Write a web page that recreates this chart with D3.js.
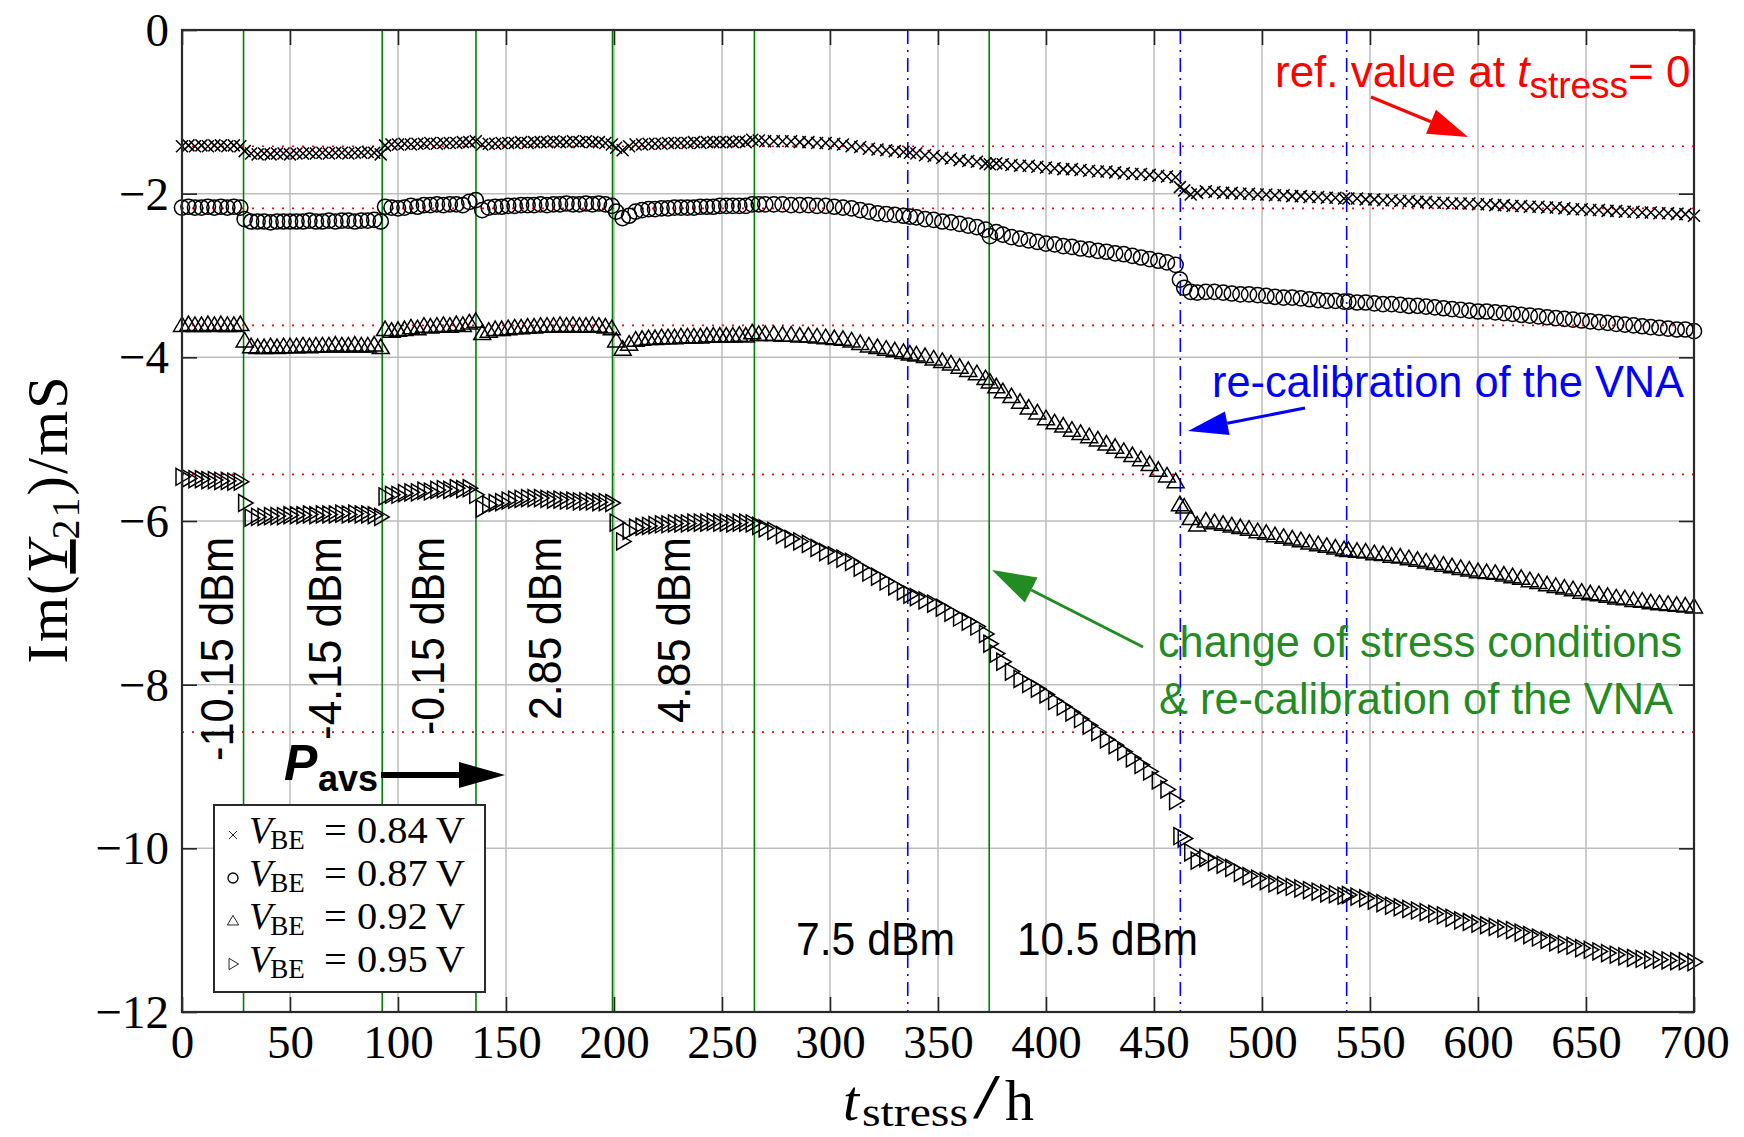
<!DOCTYPE html>
<html><head><meta charset="utf-8">
<script src="https://cdn.jsdelivr.net/npm/d3@7"></script>
<style>body{margin:0;background:#fff}</style>
</head><body>
<svg id="chart" width="1744" height="1137"></svg>
<script>
// ---------------- data ----------------
const hours = [0,3,6,9,12,15,18,21,24,27,
29,32,35,38,41,44,47,50,53,56,59,62,65,68,71,74,77,80,83,86,89,92,
94,97,100,103,106,109,112,115,118,121,124,127,130,133,136,
139,142,145,148,151,154,157,160,163,166,169,172,175,178,181,184,187,190,193,196,199,
201,204,207,210,213,216,219,222,225,228,231,234,237,240,243,246,249,252,255,258,261,264,
267,270,274,278,282,286,290,294,298,302,306,310,314,318,322,326,330,334,
337,340,344,348,352,356,360,364,368,372,
374,377,380,384,388,392,396,400,404,408,412,416,420,424,428,432,436,440,444,448,452,456,460,
462,464,467,470,474,478,482,486,490,494,498,502,506,510,514,518,522,526,530,534,538,
540,544,548,552,556,560,564,568,572,576,580,584,588,592,596,600,604,608,612,616,620,624,628,632,636,640,644,648,652,656,660,664,668,672,676,680,684,688,692,696,700];

const vbe084 = [-1.42,-1.41,-1.42,-1.41,-1.42,-1.41,-1.41,-1.42,-1.41,-1.42,
-1.48,-1.51,-1.52,-1.51,-1.52,-1.51,-1.51,-1.52,-1.51,-1.51,-1.50,-1.51,-1.50,-1.51,-1.50,-1.50,-1.51,-1.50,-1.50,-1.49,-1.50,-1.52,
-1.41,-1.40,-1.40,-1.39,-1.40,-1.39,-1.39,-1.38,-1.39,-1.38,-1.38,-1.38,-1.37,-1.37,-1.36,
-1.40,-1.39,-1.39,-1.38,-1.38,-1.38,-1.37,-1.38,-1.37,-1.37,-1.37,-1.36,-1.37,-1.37,-1.36,-1.37,-1.36,-1.37,-1.37,-1.38,-1.40,
-1.44,-1.47,-1.42,-1.40,-1.40,-1.39,-1.39,-1.39,-1.38,-1.38,-1.38,-1.38,-1.37,-1.38,-1.37,-1.37,-1.37,-1.37,-1.37,-1.36,-1.37,-1.34,
-1.35,-1.36,-1.36,-1.36,-1.36,-1.37,-1.37,-1.38,-1.38,-1.39,-1.40,-1.42,-1.43,-1.45,-1.46,-1.47,-1.48,-1.49,
-1.50,-1.51,-1.53,-1.54,-1.56,-1.57,-1.59,-1.60,-1.61,-1.63,
-1.64,-1.63,-1.64,-1.65,-1.66,-1.66,-1.67,-1.68,-1.69,-1.70,-1.70,-1.71,-1.72,-1.73,-1.73,-1.74,-1.75,-1.76,-1.76,-1.77,-1.78,-1.79,-1.80,
-1.92,-1.96,-2.01,-1.99,-1.97,-1.98,-1.99,-1.99,-2.00,-2.00,-2.01,-2.01,-2.02,-2.02,-2.03,-2.03,-2.04,-2.04,-2.05,-2.05,-2.06,
-2.06,-2.06,-2.07,-2.07,-2.08,-2.08,-2.09,-2.09,-2.10,-2.10,-2.11,-2.11,-2.12,-2.12,-2.12,-2.13,-2.13,-2.14,-2.14,-2.15,-2.15,-2.16,-2.16,-2.17,-2.17,-2.18,-2.19,-2.19,-2.20,-2.20,-2.21,-2.21,-2.22,-2.22,-2.23,-2.23,-2.24,-2.24,-2.25,-2.25,-2.27];

const vbe087 = [-2.17,-2.16,-2.17,-2.17,-2.16,-2.17,-2.16,-2.17,-2.16,-2.17,
-2.31,-2.34,-2.34,-2.34,-2.35,-2.34,-2.34,-2.34,-2.34,-2.34,-2.33,-2.34,-2.34,-2.33,-2.34,-2.33,-2.33,-2.34,-2.33,-2.33,-2.32,-2.34,
-2.16,-2.17,-2.18,-2.17,-2.15,-2.16,-2.14,-2.14,-2.13,-2.14,-2.13,-2.13,-2.14,-2.10,-2.08,
-2.20,-2.17,-2.16,-2.16,-2.15,-2.15,-2.14,-2.14,-2.14,-2.13,-2.14,-2.13,-2.13,-2.12,-2.13,-2.13,-2.12,-2.13,-2.12,-2.13,-2.15,
-2.22,-2.30,-2.27,-2.22,-2.20,-2.19,-2.19,-2.18,-2.18,-2.17,-2.17,-2.17,-2.17,-2.16,-2.16,-2.16,-2.15,-2.15,-2.15,-2.15,-2.15,-2.13,
-2.13,-2.13,-2.13,-2.13,-2.14,-2.14,-2.14,-2.15,-2.15,-2.16,-2.17,-2.18,-2.20,-2.22,-2.24,-2.25,-2.26,-2.27,
-2.28,-2.29,-2.31,-2.32,-2.34,-2.35,-2.37,-2.39,-2.41,-2.44,
-2.52,-2.47,-2.50,-2.53,-2.55,-2.57,-2.59,-2.61,-2.62,-2.64,-2.65,-2.67,-2.68,-2.70,-2.71,-2.73,-2.74,-2.76,-2.78,-2.80,-2.82,-2.84,-2.87,
-3.05,-3.15,-3.20,-3.21,-3.20,-3.20,-3.21,-3.22,-3.23,-3.23,-3.24,-3.25,-3.26,-3.27,-3.27,-3.28,-3.29,-3.30,-3.31,-3.31,-3.32,
-3.32,-3.33,-3.33,-3.34,-3.35,-3.35,-3.36,-3.37,-3.37,-3.38,-3.39,-3.40,-3.41,-3.42,-3.43,-3.44,-3.44,-3.45,-3.46,-3.47,-3.48,-3.49,-3.50,-3.51,-3.52,-3.53,-3.54,-3.55,-3.56,-3.57,-3.58,-3.59,-3.60,-3.61,-3.62,-3.63,-3.64,-3.65,-3.66,-3.66,-3.68];

const vbe092 = [-3.61,-3.60,-3.61,-3.61,-3.60,-3.61,-3.60,-3.61,-3.61,-3.60,
-3.80,-3.87,-3.88,-3.88,-3.87,-3.88,-3.87,-3.87,-3.87,-3.86,-3.87,-3.86,-3.86,-3.86,-3.85,-3.86,-3.86,-3.85,-3.86,-3.86,-3.85,-3.88,
-3.66,-3.68,-3.67,-3.66,-3.64,-3.65,-3.62,-3.63,-3.62,-3.61,-3.62,-3.60,-3.61,-3.58,-3.56,
-3.71,-3.68,-3.66,-3.66,-3.65,-3.64,-3.64,-3.63,-3.63,-3.62,-3.62,-3.62,-3.61,-3.62,-3.61,-3.62,-3.62,-3.61,-3.62,-3.63,-3.65,
-3.80,-3.90,-3.84,-3.79,-3.78,-3.77,-3.77,-3.76,-3.76,-3.76,-3.75,-3.75,-3.75,-3.75,-3.74,-3.74,-3.74,-3.74,-3.74,-3.73,-3.74,-3.70,
-3.72,-3.72,-3.72,-3.73,-3.73,-3.74,-3.74,-3.75,-3.76,-3.77,-3.78,-3.80,-3.83,-3.86,-3.88,-3.90,-3.92,-3.94,
-3.96,-3.97,-3.99,-4.02,-4.05,-4.08,-4.12,-4.16,-4.20,-4.26,
-4.30,-4.36,-4.42,-4.48,-4.55,-4.62,-4.68,-4.75,-4.80,-4.84,-4.89,-4.93,-4.97,-5.01,-5.06,-5.10,-5.15,-5.20,-5.25,-5.31,-5.38,-5.45,-5.52,
-5.80,-5.83,-5.97,-6.05,-6.00,-6.02,-6.04,-6.06,-6.08,-6.10,-6.13,-6.15,-6.18,-6.20,-6.22,-6.24,-6.27,-6.29,-6.31,-6.33,-6.35,
-6.36,-6.37,-6.38,-6.40,-6.41,-6.43,-6.44,-6.46,-6.48,-6.50,-6.52,-6.54,-6.56,-6.58,-6.60,-6.62,-6.63,-6.64,-6.66,-6.68,-6.70,-6.73,-6.75,-6.78,-6.80,-6.82,-6.84,-6.87,-6.89,-6.90,-6.92,-6.94,-6.95,-6.97,-6.98,-7.00,-7.01,-7.02,-7.03,-7.04,-7.05];

const vbe095 = [-5.46,-5.48,-5.49,-5.49,-5.50,-5.50,-5.51,-5.51,-5.52,-5.52,
-5.78,-5.96,-5.95,-5.95,-5.94,-5.94,-5.94,-5.93,-5.93,-5.93,-5.92,-5.93,-5.92,-5.92,-5.92,-5.91,-5.92,-5.91,-5.92,-5.92,-5.93,-5.95,
-5.70,-5.68,-5.68,-5.66,-5.65,-5.65,-5.63,-5.64,-5.62,-5.61,-5.62,-5.60,-5.61,-5.60,-5.68,
-5.85,-5.80,-5.78,-5.77,-5.75,-5.74,-5.73,-5.72,-5.72,-5.72,-5.73,-5.74,-5.74,-5.75,-5.75,-5.76,-5.76,-5.76,-5.77,-5.77,-5.78,
-6.02,-6.25,-6.12,-6.08,-6.07,-6.06,-6.05,-6.04,-6.04,-6.03,-6.03,-6.03,-6.02,-6.02,-6.02,-6.01,-6.02,-6.02,-6.03,-6.02,-6.02,-6.03,
-6.06,-6.09,-6.12,-6.17,-6.22,-6.25,-6.28,-6.33,-6.38,-6.42,-6.46,-6.50,-6.57,-6.63,-6.68,-6.74,-6.80,-6.86,
-6.90,-6.93,-6.97,-7.01,-7.06,-7.12,-7.18,-7.23,-7.29,-7.38,
-7.50,-7.62,-7.72,-7.84,-7.93,-7.99,-8.05,-8.12,-8.20,-8.27,-8.34,-8.42,-8.50,-8.58,-8.67,-8.74,-8.82,-8.90,-8.98,-9.06,-9.17,-9.28,-9.42,
-9.85,-9.88,-10.05,-10.15,-10.12,-10.17,-10.20,-10.24,-10.30,-10.34,-10.37,-10.40,-10.43,-10.45,-10.47,-10.49,-10.51,-10.53,-10.55,-10.56,-10.58,
-10.57,-10.59,-10.61,-10.64,-10.67,-10.70,-10.72,-10.74,-10.76,-10.78,-10.80,-10.82,-10.85,-10.88,-10.90,-10.92,-10.94,-10.96,-10.98,-11.00,-11.03,-11.06,-11.09,-11.12,-11.15,-11.17,-11.19,-11.22,-11.24,-11.26,-11.28,-11.30,-11.32,-11.34,-11.35,-11.36,-11.36,-11.37,-11.38,-11.38,-11.39];

const seriesLabels = ["0.84", "0.87", "0.92", "0.95"];
const seriesMarkers = ["cross", "circle", "triUp", "triRight"];
const xTickValues = [0,50,100,150,200,250,300,350,400,450,500,550,600,650,700];
const yTickValues = [0,-2,-4,-6,-8,-10,-12];
const refValues = [-1.42, -2.18, -3.61, -5.43, -8.58];
const stressChangeTimes = [0, 28.5, 92.7, 136.1, 199.3, 265, 373.7];
const recalibrationTimes = [336, 462.2, 539.2];
const rotatedPowerLabels = ["-10.15 dBm", "-4.15 dBm", "-0.15 dBm", "2.85 dBm", "4.85 dBm"];
const flatPowerLabels = ["7.5 dBm", "10.5 dBm"];

// ---------------- layout ----------------
const svg = d3.select("#chart");
const L = 182, R = 1694, T = 30, B = 1012;
const x = d3.scaleLinear().domain([0, 700]).range([L, R]);
const y = d3.scaleLinear().domain([-12, 0]).range([B, T]);
const serif = "'Liberation Serif','Times New Roman',serif";
const sans = "'Liberation Sans',Arial,Helvetica,sans-serif";

// grid
const grid = svg.append("g").attr("stroke", "#bdbdbd").attr("stroke-width", 1.5);
grid.selectAll("line.vx").data(xTickValues.slice(1, -1)).join("line")
  .attr("x1", d => x(d)).attr("x2", d => x(d)).attr("y1", T).attr("y2", B);
grid.selectAll("line.hy").data(yTickValues.slice(1, -1)).join("line")
  .attr("x1", L).attr("x2", R).attr("y1", d => y(d)).attr("y2", d => y(d));

// reference lines (red dotted)
svg.append("g").selectAll("line").data(refValues).join("line")
  .attr("x1", x(0)).attr("x2", x(700)).attr("y1", d => y(d)).attr("y2", d => y(d))
  .attr("stroke", "#ff0000").attr("stroke-width", 1.6).attr("stroke-dasharray", "2,8");

// green stress-change lines
svg.append("g").selectAll("line").data(stressChangeTimes).join("line")
  .attr("x1", d => x(d)).attr("x2", d => x(d)).attr("y1", T).attr("y2", B)
  .attr("stroke", "#007f00").attr("stroke-width", 1.6);

// blue recalibration lines
svg.append("g").selectAll("line").data(recalibrationTimes).join("line")
  .attr("x1", d => x(d)).attr("x2", d => x(d)).attr("y1", T).attr("y2", B)
  .attr("stroke", "#0000ff").attr("stroke-width", 1.6).attr("stroke-dasharray", "14,6,2,6");

// axes (inward ticks)
const fmt = d => d < 0 ? "\u2212" + Math.abs(d) : String(d);
const axL = svg.append("g").attr("transform", `translate(${L},0)`)
  .call(d3.axisLeft(y).tickValues(yTickValues).tickSize(-15).tickPadding(13).tickFormat(fmt));
const axB = svg.append("g").attr("transform", `translate(0,${B})`)
  .call(d3.axisBottom(x).tickValues(xTickValues).tickSize(-15).tickPadding(13).tickFormat(fmt));
const axT = svg.append("g").attr("transform", `translate(0,${T})`)
  .call(d3.axisTop(x).tickValues(xTickValues).tickSize(-15).tickFormat(""));
const axR = svg.append("g").attr("transform", `translate(${R},0)`)
  .call(d3.axisRight(y).tickValues(yTickValues).tickSize(-15).tickFormat(""));
[axL, axB, axT, axR].forEach(a => {
  a.select(".domain").remove();
  a.selectAll(".tick line").attr("stroke", "#222").attr("stroke-width", 1.6);
  a.selectAll("text").attr("font-family", serif).attr("font-size", 47).attr("fill", "#000");
});
axL.selectAll("text").attr("dy", "0.33em");

// markers
const markerPath = {
  cross: "M-6,-6L6,6M-6,6L6,-6",
  triUp: "M0,-8.5L8.5,6L-8.5,6Z",
  triRight: "M-6,-8.5L8.5,0L-6,8.5Z"
};
function drawMarker(g, type, scale) {
  if (type === "circle") {
    g.append("circle").attr("r", 7.6 * scale);
  } else {
    g.append("path").attr("d", markerPath[type]).attr("transform", `scale(${scale})`);
  }
}
const allSeries = [vbe084, vbe087, vbe092, vbe095];
allSeries.forEach((vals, si) => {
  const g = svg.append("g").attr("fill", "none").attr("stroke", "#000").attr("stroke-width", 1.5);
  const pts = hours.map((h, i) => [h, vals[i]]).filter(p => p[1] !== undefined);
  pts.forEach(p => {
    const m = g.append("g").attr("transform", `translate(${x(p[0])},${y(p[1])})`);
    drawMarker(m, seriesMarkers[si], 1);
  });
});

// frame
svg.append("rect").attr("x", L).attr("y", T).attr("width", R - L).attr("height", B - T)
  .attr("fill", "none").attr("stroke", "#2a2a2a").attr("stroke-width", 2.2);

// arrow helper
function arrow(x1, y1, x2, y2, color, w, hl, hw) {
  const a = Math.atan2(y2 - y1, x2 - x1);
  const bx = x2 - hl * Math.cos(a), by = y2 - hl * Math.sin(a);
  svg.append("line").attr("x1", x1).attr("y1", y1).attr("x2", bx).attr("y2", by)
    .attr("stroke", color).attr("stroke-width", w);
  const px = -Math.sin(a) * hw, py = Math.cos(a) * hw;
  svg.append("path").attr("d", `M${x2},${y2}L${bx + px},${by + py}L${bx - px},${by - py}Z`)
    .attr("fill", color);
}

// rotated power labels
const rotX = [233, 341, 444, 561, 690];
rotatedPowerLabels.forEach((t, i) => {
  svg.append("text").attr("transform", `translate(${rotX[i]},537) rotate(-90)`)
    .attr("text-anchor", "end").attr("font-family", sans).attr("font-size", 46)
    .attr("textLength", [224, 203, 198, 183, 186][i]).attr("lengthAdjust", "spacingAndGlyphs")
    .text(t);
});
svg.append("text").attr("x", 796).attr("y", 955).attr("font-family", sans).attr("font-size", 46)
  .attr("textLength", 159).attr("lengthAdjust", "spacingAndGlyphs").text(flatPowerLabels[0]);
svg.append("text").attr("x", 1017).attr("y", 955).attr("font-family", sans).attr("font-size", 46)
  .attr("textLength", 181).attr("lengthAdjust", "spacingAndGlyphs").text(flatPowerLabels[1]);

// P_avs with arrow
svg.append("text").attr("x", 284).attr("y", 780).attr("font-family", sans).attr("font-size", 50)
  .attr("font-weight", "bold").attr("font-style", "italic").text("P");
svg.append("text").attr("x", 318).attr("y", 791).attr("font-family", sans).attr("font-size", 36)
  .attr("font-weight", "bold").attr("textLength", 60).attr("lengthAdjust", "spacingAndGlyphs").text("avs");
arrow(381, 775, 505, 775, "#000", 6, 46, 13);

// red annotation
const red = svg.append("text").attr("x", 1275).attr("y", 87).attr("font-family", sans)
  .attr("font-size", 44).attr("fill", "#ff0000");
red.append("tspan").text("ref. value at ");
red.append("tspan").attr("font-style", "italic").text("t");
red.append("tspan").attr("font-size", 37).attr("dy", 11).text("stress");
red.append("tspan").attr("dy", -11).text("= 0");
arrow(1371, 97, 1468, 137, "#ff0000", 3, 40, 13);

// blue annotation
svg.append("text").attr("x", 1212).attr("y", 397).attr("font-family", sans).attr("font-size", 44)
  .attr("fill", "#0000ff").attr("textLength", 472).attr("lengthAdjust", "spacingAndGlyphs")
  .text("re-calibration of the VNA");
arrow(1305, 408, 1188, 431, "#0000ff", 3, 40, 12);

// green annotation
svg.append("text").attr("x", 1158).attr("y", 657).attr("font-family", sans).attr("font-size", 44)
  .attr("fill", "#228b22").attr("textLength", 524).attr("lengthAdjust", "spacingAndGlyphs")
  .text("change of stress conditions");
svg.append("text").attr("x", 1159).attr("y", 714).attr("font-family", sans).attr("font-size", 44)
  .attr("fill", "#228b22").attr("textLength", 514).attr("lengthAdjust", "spacingAndGlyphs")
  .text("& re-calibration of the VNA");
arrow(1143, 647, 992, 570, "#228b22", 3, 44, 14);

// legend
const lg = svg.append("g");
lg.append("rect").attr("x", 214).attr("y", 805).attr("width", 271).attr("height", 187)
  .attr("fill", "#fff").attr("stroke", "#2a2a2a").attr("stroke-width", 2);
seriesLabels.forEach((lab, i) => {
  const by = 843 + i * 43;
  const m = lg.append("g").attr("transform", `translate(233,${by - 8})`)
    .attr("fill", "none").attr("stroke", "#000").attr("stroke-width", 1.3);
  drawMarker(m, seriesMarkers[i], 0.66);
  const t = lg.append("text").attr("x", 249).attr("y", by).attr("font-family", serif).attr("font-size", 38);
  t.append("tspan").attr("font-style", "italic").text("V");
  t.append("tspan").attr("font-size", 27).attr("dy", 6).attr("dx", -2).text("BE");
  lg.append("text").attr("x", 324).attr("y", by).attr("font-family", serif).attr("font-size", 38)
    .attr("textLength", 141).attr("lengthAdjust", "spacingAndGlyphs")
    .text("= " + lab + "\u2009V");
});

// axis titles
svg.append("text").attr("x", 843).attr("y", 1120).attr("font-family", serif).attr("font-size", 58)
  .attr("font-style", "italic").text("t");
svg.append("text").attr("x", 862).attr("y", 1126).attr("font-family", serif).attr("font-size", 40)
  .attr("textLength", 106).attr("lengthAdjust", "spacingAndGlyphs").text("stress");
svg.append("text").attr("x", 973).attr("y", 1118).attr("font-family", serif).attr("font-size", 64)
  .attr("textLength", 27).attr("lengthAdjust", "spacingAndGlyphs").text("/");
svg.append("text").attr("x", 1005).attr("y", 1120).attr("font-family", serif).attr("font-size", 58).text("h");

const yt = svg.append("text").attr("transform", "translate(67,519) rotate(-90)")
  .attr("text-anchor", "middle").attr("font-family", serif).attr("font-size", 58)
  .attr("letter-spacing", 2);
yt.append("tspan").text("Im(");
yt.append("tspan").attr("font-style", "italic").attr("text-decoration", "underline").text("Y");
yt.append("tspan").attr("font-size", 40).attr("dy", 12).text("21");
yt.append("tspan").attr("dy", -12).text(")/mS");
</script>
</body></html>
